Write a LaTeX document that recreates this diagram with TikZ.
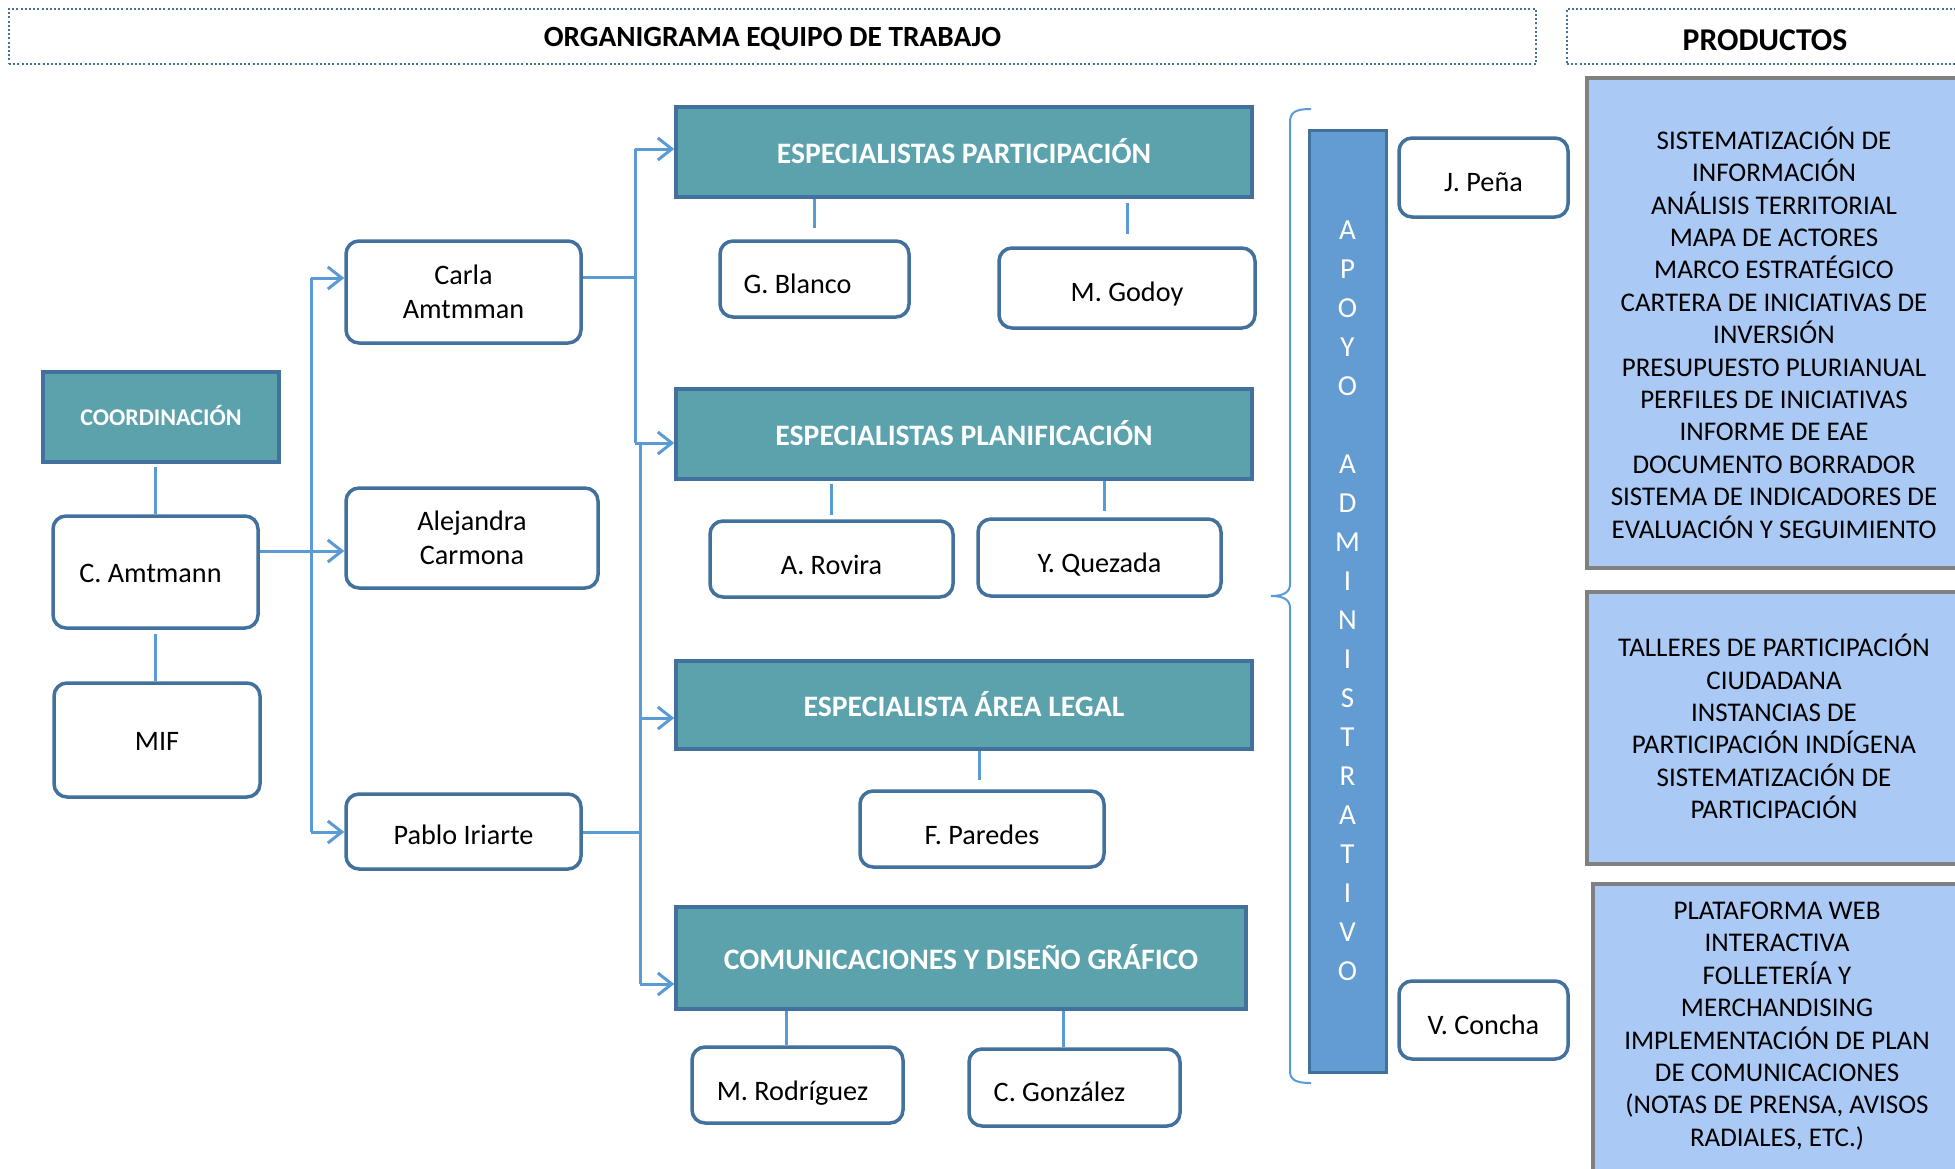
\documentclass[tikz,border=0pt]{standalone}
\usepackage{fontspec}
\setmainfont{Carlito}
\usetikzlibrary{arrows.meta}
\definecolor{tealfill}{RGB}{91,162,172}
\definecolor{dkblue}{RGB}{65,113,156}
\definecolor{connblue}{RGB}{91,155,213}
\definecolor{apfill}{RGB}{99,156,210}
\definecolor{prodfill}{RGB}{170,201,245}
\definecolor{prodline}{RGB}{128,128,128}
\tikzset{
  sz/.style 2 args={minimum width=#1pt, minimum height=#2pt},
  titlebox/.style={draw=dkblue, line width=2pt, dash pattern=on 2pt off 2.2pt, inner sep=0pt},
  hdr/.style={draw=dkblue, line width=3.5pt, fill=tealfill, text=white, inner sep=0pt,
    font=\bfseries\fontsize{29.7}{36}\selectfont, text height=22pt, text depth=0pt},
  pbox/.style={draw=dkblue, line width=3.5pt, fill=white, rounded corners=13pt, inner sep=0pt,
    font=\fontsize{28.2}{34}\selectfont},
  oneline/.style={text height=#1pt, text depth=0pt},
  twoline/.style={align=center},
  apbar/.style={draw=dkblue, line width=3pt, fill=apfill, text=white, inner sep=0pt, align=center,
    font=\fontsize{29}{39}\selectfont},
  prodbox/.style={draw=prodline, line width=3.5pt, fill=prodfill, inner sep=0pt},
  prodtext/.style={align=center, inner sep=0pt, text=black, font=\fontsize{27}{32.4}\selectfont},
  conn/.style={draw=connblue, line width=3pt},
  arr/.style={conn, -{Straight Barb[length=14pt,width=22pt]}},
  bracepath/.style={draw=connblue, line width=2pt}
}
\begin{document}
\begin{tikzpicture}[x=1pt,y=-1pt]
\useasboundingbox (0,0) rectangle (1955,1168);

% titles
\node[titlebox, sz={1527}{55}, font=\bfseries\fontsize{29.3}{35}\selectfont, oneline=20] (t1) at (772.5,36.5) {ORGANIGRAMA EQUIPO DE TRABAJO};
\node[titlebox, sz={396}{55}, font=\bfseries\fontsize{31.7}{38}\selectfont, oneline=27] (t2) at (1765,36.5) {PRODUCTOS};

% left column
\node[hdr, sz={236}{90}, font=\bfseries\fontsize{24}{29}\selectfont, text height=17pt] (coord) at (161,417) {COORDINACIÓN};
\node[pbox, sz={205}{112}, oneline=20] (camt) at (155.5,572) {\hspace*{-10pt}C. Amtmann};
\node[pbox, sz={206}{114}, oneline=20] (mif) at (157,740) {MIF};

% second column
\node[pbox, sz={235}{102}, twoline] (carla) at (463.5,292) {Carla\\Amtmman};
\node[pbox, sz={252}{100}, twoline] (ale) at (472,538) {Alejandra\\Carmona};
\node[pbox, sz={235}{75}, oneline=26] (pablo) at (463.5,831.5) {Pablo Iriarte};

% headers
\node[hdr, sz={576}{90}] (ep) at (964,152) {ESPECIALISTAS PARTICIPACIÓN};
\node[hdr, sz={576}{90}] (epl) at (964,434) {ESPECIALISTAS PLANIFICACIÓN};
\node[hdr, sz={576}{88}] (leg) at (964,705) {ESPECIALISTA ÁREA LEGAL};
\node[hdr, sz={570}{102}] (comm) at (961,958) {COMUNICACIONES Y DISEÑO GRÁFICO};

% persons
\node[pbox, sz={189}{76}, oneline=28] (gb) at (814.5,279) {\hspace*{-34pt}G. Blanco};
\node[pbox, sz={256}{80}, oneline=26] (mg) at (1127,288) {M. Godoy};
\node[pbox, sz={243}{76}, oneline=30] (ar) at (831.5,559) {A. Rovira};
\node[pbox, sz={243}{77}, oneline=30] (yq) at (1099.5,557.5) {Y. Quezada};
\node[pbox, sz={244}{76}, oneline=30] (fp) at (982,829) {F. Paredes};
\node[pbox, sz={211}{76}, oneline=30] (mr) at (797.5,1085) {\hspace*{-10pt}M. Rodríguez};
\node[pbox, sz={211}{77}, oneline=28] (cg) at (1074.5,1087.5) {\hspace*{-30pt}C. González};

% apoyo administrativo
\node[apbar, sz={77}{942}] (apoyo) at (1347.5,601) {A\\P\\O\\Y\\O\\[39pt]A\\D\\M\\I\\N\\I\\S\\T\\R\\A\\T\\I\\V\\O};
\node[pbox, sz={169}{79}, oneline=27] (jp) at (1483.5,177.5) {J. Peña};
\node[pbox, sz={169}{78}, oneline=28] (vc) at (1483.5,1020) {V. Concha};

% brace
\draw[bracepath] (1311,109) .. controls (1296,109) and (1290,112) .. (1290,122) -- (1290,584)
  .. controls (1290,592) and (1284,596) .. (1271,596)
  .. controls (1284,596) and (1290,600) .. (1290,608) -- (1290,1071)
  .. controls (1290,1080) and (1296,1083) .. (1311,1083);

% products
\node[prodbox, sz={374}{490}] (p1) at (1774,323) {};
\node[prodtext] (p1t) at (1774,332.5) {SISTEMATIZACIÓN DE\\INFORMACIÓN\\ANÁLISIS TERRITORIAL\\MAPA DE ACTORES\\MARCO ESTRATÉGICO\\CARTERA DE INICIATIVAS DE\\INVERSIÓN\\PRESUPUESTO PLURIANUAL\\PERFILES DE INICIATIVAS\\INFORME DE EAE\\DOCUMENTO BORRADOR\\SISTEMA DE INDICADORES DE\\EVALUACIÓN Y SEGUIMIENTO};
\node[prodbox, sz={374}{272}] (p2) at (1774,728) {};
\node[prodtext] (p2t) at (1774,726.5) {TALLERES DE PARTICIPACIÓN\\CIUDADANA\\INSTANCIAS DE\\PARTICIPACIÓN INDÍGENA\\SISTEMATIZACIÓN DE\\PARTICIPACIÓN};
\node[prodbox, sz={368}{296}] (p3) at (1777,1032) {};
\node[prodtext] (p3t) at (1777,1026) {PLATAFORMA WEB\\INTERACTIVA\\FOLLETERÍA Y\\MERCHANDISING\\IMPLEMENTACIÓN DE PLAN\\DE COMUNICACIONES\\(NOTAS DE PRENSA, AVISOS\\RADIALES, ETC.)};

% connector coordinates
\coordinate (bL1) at (311,278);
\coordinate (bL2) at (311,832);
\coordinate (jCA) at (311,551);
\coordinate (bA1) at (635,149);
\coordinate (bA2) at (635,443);
\coordinate (jCarla) at (635,277);
\coordinate (bB1) at (640,443);
\coordinate (bB2) at (640,984);
\coordinate (jLeg) at (640,718);
\coordinate (jPab) at (640,832);

% left connectors
\draw[conn, shorten <=3pt] (camt.north |- coord.south) -- (camt.north);
\draw[conn, shorten <=4pt] (camt.south) -- (camt.south |- mif.north);
\draw[conn] (bL1) -- (bL2);
\draw[arr] (bL1) -- (carla.west |- bL1);
\draw[arr] (camt.east |- jCA) -- (ale.west |- jCA);
\draw[arr] (bL2) -- (pablo.west |- bL2);

% middle connectors
\draw[conn] (carla.east |- jCarla) -- (jCarla);
\draw[conn] (bA1) -- (bA2);
\draw[arr] (bA1) -- (ep.west |- bA1);
\draw[arr] (bA2) -- (epl.west |- bA2);
\draw[conn] (bB1) -- (bB2);
\draw[arr] (jLeg) -- (leg.west |- jLeg);
\draw[arr] (bB2) -- (comm.west |- bB2);
\draw[conn] (pablo.east |- jPab) -- (jPab);

% header to person lines
\draw[conn, shorten >=11pt] (gb.north |- ep.south) -- (gb.north);
\draw[conn, shorten <=4pt, shorten >=12pt] (mg.north |- ep.south) -- (mg.north);
\draw[conn, shorten <=3pt, shorten >=4pt] (ar.north |- epl.south) -- (ar.north);
\draw[conn, shorten >=6pt] ([xshift=4.5pt]yq.north |- epl.south) -- ([xshift=4.5pt]yq.north);
\draw[conn, shorten >=9pt] ([xshift=-3pt]fp.north |- leg.south) -- ([xshift=-3pt]fp.north);
\draw[conn] ([xshift=-11.5pt]mr.north |- comm.south) -- ([xshift=-11.5pt]mr.north);
\draw[conn] ([xshift=-11.5pt]cg.north |- comm.south) -- ([xshift=-11.5pt]cg.north);
\end{tikzpicture}
\end{document}
